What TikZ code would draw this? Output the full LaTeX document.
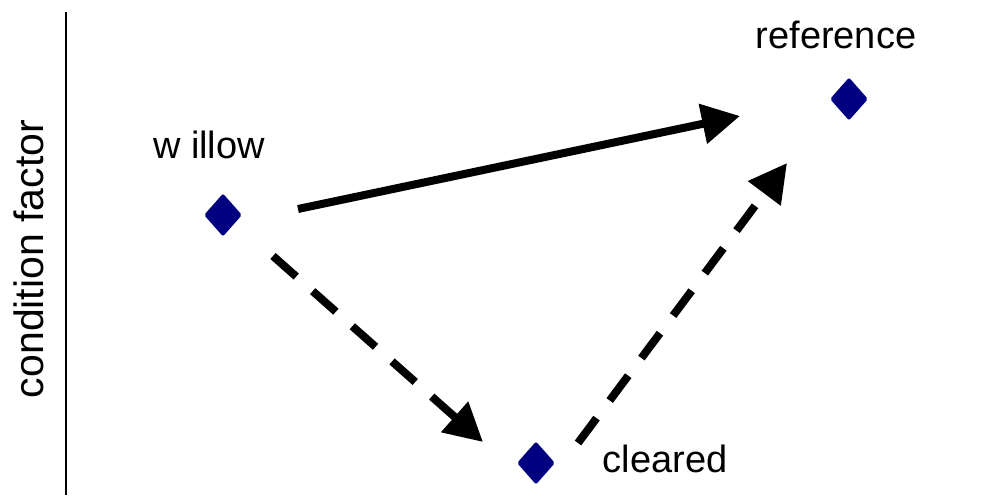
\documentclass[tikz,border=0pt]{standalone}
\usepackage{fontspec}
\setmainfont{Liberation Sans}
\usetikzlibrary{arrows.meta,shapes.geometric}
\definecolor{navy}{RGB}{0,0,128}
\tikzset{
  marker/.style={diamond, fill=navy, draw=none, inner sep=0pt, minimum width=38pt, minimum height=43pt, rounded corners=2pt},
  lbl/.style={anchor=base, inner sep=0pt, font=\fontsize{38}{44}\selectfont},
  conn/.style={line width=8pt, -{Triangle[length=38pt,width=39pt]}},
  dashconn/.style={conn, dash pattern=on 31pt off 22pt},
}
\begin{document}
\begin{tikzpicture}[x=1pt,y=-1pt]
\useasboundingbox (0,0) rectangle (996,497);
% axis
\coordinate (axtop) at (66,12);
\coordinate (axbot) at (66,495);
\draw[line width=1.5pt] (axtop) -- (axbot);
\node[lbl, rotate=90, font=\fontsize{41}{46}\selectfont] (ylab) at (43,259) {condition factor};
% markers
\node[marker] (willow) at (223,215) {};
\node[marker] (reference) at (849,99) {};
\node[marker] (cleared) at (536,463) {};
% labels
\node[lbl] (lwillow) at (209,159) {w illow};
\node[lbl] (lreference) at (836,49) {reference};
\node[lbl] (lcleared) at (665,472) {cleared};
% connector end points
\coordinate (s1) at (298,209);
\coordinate (e1) at (740,116);
\coordinate (s2) at (273,256);
\coordinate (e2) at (483,442);
\coordinate (s3) at (578,443);
\coordinate (e3) at (787,163);
\draw[conn] (s1) -- (e1);
\draw[dashconn] (s2) -- (e2);
\draw[dashconn] (s3) -- (e3);
\end{tikzpicture}
\end{document}
